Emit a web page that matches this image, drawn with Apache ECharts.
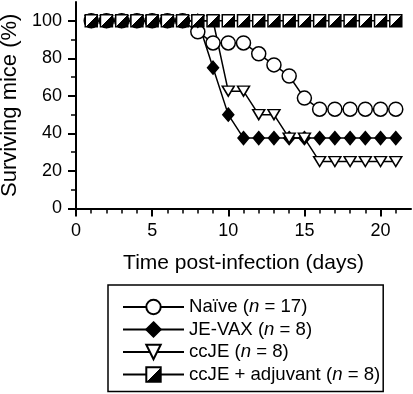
<!DOCTYPE html>
<html>
<head>
<meta charset="utf-8">
<script src="https://cdn.jsdelivr.net/npm/echarts@6/dist/echarts.min.js"></script>
<style>
html,body{margin:0;padding:0;background:#fff;}
#c{width:413px;height:394px;}
</style>
</head>
<body>
<div id="c"></div>
<script>
var days = [1,2,3,4,5,6,7,8,9,10,11,12,13,14,15,16,17,18,19,20,21];
var naive = [100,100,100,100,100,100,100,94.1,88.2,88.2,88.2,82.4,76.5,70.6,58.8,52.9,52.9,52.9,52.9,52.9,52.9];
var jevax = [100,100,100,100,100,100,100,100,75,50,37.5,37.5,37.5,37.5,37.5,37.5,37.5,37.5,37.5,37.5,37.5];
var ccje = [100,100,100,100,100,100,100,100,100,62.5,62.5,50,50,37.5,37.5,25,25,25,25,25,25];
var adjuvant = [100,100,100,100,100,100,100,100,100,100,100,100,100,100,100,100,100,100,100,100,100];
var xMajorTicks = [0,5,10,15,20];
var xMinorTicks = [1,2,3,4,6,7,8,9,11,12,13,14,16,17,18,19,21];
var yMajorTicks = [0,20,40,60,80,100];
var yMinorTicks = [10,30,50,70,90];
var seriesNames = ['Naïve', 'JE-VAX', 'ccJE', 'ccJE + adjuvant'];
var seriesN = [17, 8, 8, 8];

function pairs(ys){ return days.map(function(d,i){ return [d, ys[i]]; }); }

var FONT = 'Liberation Sans, Arial, Helvetica, sans-serif';
var chart = echarts.init(document.getElementById('c'), null, {renderer:'canvas'});

var halfSquare = new echarts.graphic.LinearGradient(0,0,1,1,[
  {offset:0, color:'#ffffff'},{offset:0.5, color:'#ffffff'},
  {offset:0.5, color:'#000000'},{offset:1, color:'#000000'}
]);

function mk(name, ys, symbol, size, fill){
  return {
    name: name, type:'line', data: pairs(ys),
    xAxisIndex:0, yAxisIndex:0,
    symbol: symbol, symbolSize: size, showAllSymbol:true,
    lineStyle:{color:'#000', width:1.5},
    itemStyle:{color: fill, borderColor:'#000', borderWidth:1.5, opacity:1},
    emphasis:{disabled:true}
  };
}

var nameMap = {};
seriesNames.forEach(function(n,i){ nameMap[n] = seriesN[i]; });

var option = {
  animation:false,
  textStyle:{fontFamily:FONT, color:'#000'},
  grid:{left:76, right:2, top:2, bottom:185.5, outerBoundsMode:'none', containLabel:false},
  xAxis:[{
    type:'value', position:'bottom', min:0, max:22,
    axisLine:{show:true, onZero:false, lineStyle:{color:'#000', width:2}},
    axisTick:{show:true, customValues:xMajorTicks, length:8, lineStyle:{color:'#000', width:2}},
    axisLabel:{customValues:xMajorTicks, color:'#000', fontSize:18, margin:14, fontFamily:FONT},
    splitLine:{show:false},
    name:'Time post-infection (days)', nameLocation:'middle', nameGap:44,
    nameTextStyle:{fontSize:21, color:'#000', fontFamily:FONT}
  },{
    type:'value', position:'bottom', min:0, max:22,
    axisLine:{show:false, onZero:false},
    axisTick:{show:true, customValues:xMinorTicks, length:5, lineStyle:{color:'#000', width:1.5}},
    axisLabel:{show:false}, splitLine:{show:false}
  }],
  yAxis:[{
    type:'value', position:'left', min:0, max:110,
    axisLine:{show:true, onZero:false, lineStyle:{color:'#000', width:2}},
    axisTick:{show:true, customValues:yMajorTicks, length:8, lineStyle:{color:'#000', width:2}},
    axisLabel:{customValues:yMajorTicks, color:'#000', fontSize:18, margin:14, fontFamily:FONT},
    splitLine:{show:false},
    name:'Surviving mice (%)', nameLocation:'middle', nameGap:51, nameRotate:90,
    nameTextStyle:{fontSize:22, color:'#000', fontFamily:FONT}
  },{
    type:'value', position:'left', min:0, max:110,
    axisLine:{show:false, onZero:false},
    axisTick:{show:true, customValues:yMinorTicks, length:5, lineStyle:{color:'#000', width:1.5}},
    axisLabel:{show:false}, splitLine:{show:false}
  }],
  legend:{
    orient:'vertical', left:108, top:285,
    padding:[12,3,7,14], itemGap:2.5,
    itemWidth:61, itemHeight:18,
    borderColor:'#000', borderWidth:1.5, backgroundColor:'#fff',
    data: seriesNames,
    formatter:function(n){ return n + ' ({i|n} = ' + nameMap[n] + ')'; },
    textStyle:{fontSize:18.6, color:'#000', fontFamily:FONT, lineHeight:20,
      rich:{i:{fontStyle:'italic', fontSize:18.6, fontFamily:FONT, color:'#000', lineHeight:20}}}
  },
  series:[
    mk(seriesNames[0], naive, 'circle', 14, '#fff'),
    mk(seriesNames[1], jevax, 'diamond', [11,13], '#000'),
    mk(seriesNames[2], ccje, 'path://M0,0L12,0L6,10Z', [12,10], '#fff'),
    mk(seriesNames[3], adjuvant, 'rect', 12, halfSquare)
  ]
};
chart.setOption(option);
</script>
</body>
</html>
